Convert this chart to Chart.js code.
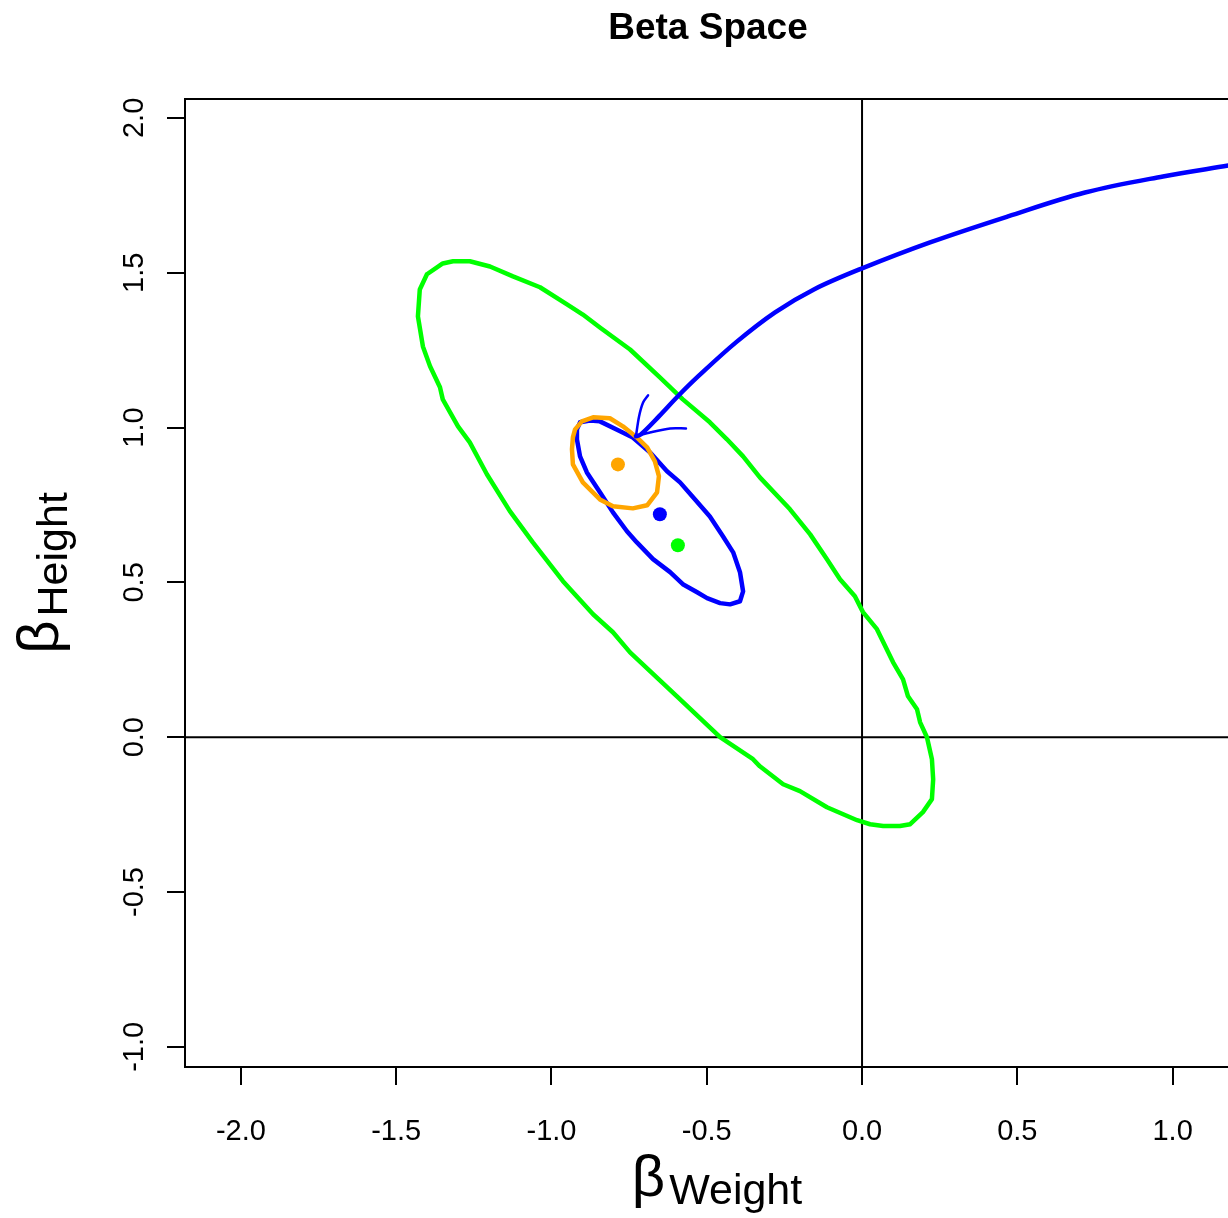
<!DOCTYPE html>
<html>
<head>
<meta charset="utf-8">
<script src="https://cdn.jsdelivr.net/npm/chart.js@4.4.0/dist/chart.umd.min.js"></script>
<style>
  html, body { margin: 0; padding: 0; background: #fff; overflow: hidden; }
  #wrap { width: 1228px; height: 1218px; overflow: hidden; }
</style>
</head>
<body>
<div id="wrap"><canvas id="beta" width="1240" height="1218"></canvas></div>
<script>
// axis ranges and ticks
const xRange = [-2.18, 1.188];
const yRange = [-1.065, 2.061];
const xTicks = [-2.0, -1.5, -1.0, -0.5, 0.0, 0.5, 1.0];
const yTicks = [-1.0, -0.5, 0.0, 0.5, 1.0, 1.5, 2.0];

// wide green ellipse
const greenX = [-1.401,-1.350,-1.317,-1.263,-1.198,-1.124,-1.037,-0.950,-0.899,-0.844,-0.747,-0.651,-0.577,-0.490,-0.435,-0.383,-0.329,-0.232,-0.167,-0.113,-0.071,-0.023,0.003,0.048,0.100,0.132,0.148,0.177,0.187,0.209,0.225,0.229,0.225,0.196,0.155,0.122,0.068,0.026,-0.016,-0.113,-0.200,-0.254,-0.329,-0.351,-0.457,-0.596,-0.747,-0.802,-0.866,-0.963,-1.060,-1.134,-1.208,-1.263,-1.301,-1.350,-1.359,-1.391,-1.414,-1.430,-1.424];
const greenY = [1.495,1.530,1.537,1.537,1.520,1.488,1.453,1.398,1.365,1.323,1.252,1.162,1.091,1.017,0.962,0.907,0.839,0.736,0.655,0.575,0.510,0.455,0.404,0.349,0.242,0.187,0.132,0.090,0.048,0.000,-0.071,-0.136,-0.200,-0.242,-0.281,-0.287,-0.287,-0.281,-0.268,-0.226,-0.174,-0.152,-0.094,-0.071,0.000,0.132,0.274,0.339,0.397,0.504,0.629,0.730,0.849,0.952,1.004,1.091,1.130,1.198,1.262,1.359,1.446];

// blue ellipse
const blueX = [-0.908,-0.876,-0.844,-0.779,-0.738,-0.683,-0.628,-0.586,-0.544,-0.490,-0.448,-0.415,-0.393,-0.383,-0.393,-0.425,-0.457,-0.499,-0.531,-0.577,-0.618,-0.673,-0.725,-0.757,-0.802,-0.844,-0.886,-0.908,-0.918,-0.918];
const blueY = [1.017,1.023,1.020,0.988,0.968,0.920,0.859,0.823,0.775,0.713,0.649,0.597,0.533,0.471,0.439,0.429,0.433,0.449,0.468,0.494,0.533,0.575,0.629,0.665,0.726,0.791,0.855,0.907,0.962,0.994];

// orange ellipse
const orangeX = [-0.931,-0.934,-0.931,-0.899,-0.844,-0.802,-0.738,-0.692,-0.660,-0.654,-0.667,-0.692,-0.725,-0.770,-0.812,-0.866,-0.902,-0.924];
const orangeY = [0.968,0.930,0.881,0.823,0.768,0.746,0.739,0.749,0.791,0.843,0.891,0.936,0.968,1.004,1.030,1.033,1.020,0.994];

// blue path and its two short branches
const pathX = [-0.728,-0.712,-0.654,-0.593,-0.528,-0.406,-0.280,-0.155,0.000,0.219,0.470,0.718,0.969,1.179];
const pathY = [0.972,0.978,1.036,1.101,1.165,1.275,1.372,1.446,1.514,1.598,1.682,1.759,1.811,1.846];
const branchUpX = [-0.728,-0.718,-0.705,-0.689];
const branchUpY = [0.972,1.036,1.081,1.104];
const branchRightX = [-0.728,-0.680,-0.618,-0.567];
const branchRightY = [0.972,0.985,0.997,0.997];

// centre points
const meanX = [-0.786, -0.651, -0.593];
const meanY = [0.881, 0.720, 0.620];
const meanColors = ['#FFA500', '#0000FF', '#00FF00'];

const titleText = 'Beta Space';
const beta = '\u03B2';
const xSub = 'Weight';
const ySub = 'Height';

function pts(xs, ys, closed) {
  let out = xs.map((x, i) => ({x: x, y: ys[i]}));
  if (closed) out.push(out[0]);
  return out;
}

function line(data, color, width, tension) {
  return {
    data: data,
    showLine: true,
    borderColor: color,
    borderWidth: width,
    pointRadius: 0,
    tension: tension || 0,
    borderJoinStyle: 'round',
    borderCapStyle: 'round',
    fill: false
  };
}

const font = '"Liberation Sans", Arial, Helvetica, sans-serif';

function drawSub(ctx, main, sub, cx, baseMain, baseSub) {
  ctx.font = '58px ' + font;
  const wm = ctx.measureText(main).width;
  ctx.font = '43px ' + font;
  const ws = ctx.measureText(sub).width;
  const gap = 4;
  let x0 = cx - (wm + gap + ws) / 2;
  ctx.textAlign = 'left';
  ctx.textBaseline = 'alphabetic';
  ctx.font = '58px ' + font;
  ctx.fillText(main, x0, baseMain);
  ctx.font = '43px ' + font;
  ctx.fillText(sub, x0 + wm + gap, baseSub);
}

const rLabels = {
  id: 'rLabels',
  afterDraw(chart) {
    const {ctx, chartArea: a} = chart;
    const cx = (a.left + a.right) / 2;
    const cy = (a.top + a.bottom) / 2;
    ctx.save();
    ctx.strokeStyle = '#000';
    ctx.lineWidth = 2;
    ctx.strokeRect(a.left, a.top, a.right - a.left, a.bottom - a.top);
    ctx.fillStyle = '#000';
    ctx.font = 'bold 37px ' + font;
    ctx.textAlign = 'center';
    ctx.textBaseline = 'alphabetic';
    ctx.fillText(titleText, cx, 39);
    drawSub(ctx, beta, xSub, cx + 9, 1196, 1204);
    ctx.translate(0, cy - 10);
    ctx.rotate(-Math.PI / 2);
    drawSub(ctx, beta, ySub, 0, 58, 67);
    ctx.restore();
  }
};

const zeroH = line([{x: xRange[0], y: 0}, {x: xRange[1], y: 0}], '#000', 2);
const zeroV = line([{x: 0, y: yRange[0]}, {x: 0, y: yRange[1]}], '#000', 2);

const meanSet = {
  data: pts(meanX, meanY),
  showLine: false,
  pointRadius: 7,
  pointBorderWidth: 0,
  pointBackgroundColor: meanColors,
  pointBorderColor: meanColors
};

new Chart(document.getElementById('beta'), {
  type: 'scatter',
  data: {
    datasets: [
      meanSet,
      line(pts(pathX, pathY), '#0000FF', 4.5, 0.35),
      line(pts(branchUpX, branchUpY), '#0000FF', 2.5, 0.3),
      line(pts(branchRightX, branchRightY), '#0000FF', 2.5, 0.3),
      line(pts(orangeX, orangeY, true), '#FFA500', 4.5),
      line(pts(blueX, blueY, true), '#0000FF', 4.5),
      line(pts(greenX, greenY, true), '#00FF00', 4.5),
      zeroH,
      zeroV
    ]
  },
  options: {
    responsive: false,
    animation: false,
    layout: { padding: { top: 99, right: 9, left: 0, bottom: 0 } },
    plugins: {
      legend: { display: false },
      title: { display: false },
      tooltip: { enabled: false }
    },
    scales: {
      x: {
        type: 'linear',
        min: xRange[0],
        max: xRange[1],
        afterBuildTicks: (s) => { s.ticks = xTicks.map(v => ({value: v})); },
        afterFit: (s) => { s.height = 151; },
        grid: { drawOnChartArea: false, drawTicks: true, tickLength: 18, color: '#000', lineWidth: 2 },
        border: { display: false },
        ticks: {
          color: '#000',
          font: { family: font, size: 29 },
          padding: 30,
          maxRotation: 0,
          autoSkip: false,
          callback: (v) => v.toFixed(1)
        }
      },
      y: {
        type: 'linear',
        min: yRange[0],
        max: yRange[1],
        afterBuildTicks: (s) => { s.ticks = yTicks.map(v => ({value: v})); },
        afterFit: (s) => { s.width = 185; },
        grid: { drawOnChartArea: false, drawTicks: true, tickLength: 18, color: '#000', lineWidth: 2 },
        border: { display: false },
        ticks: {
          color: '#000',
          font: { family: font, size: 29 },
          padding: 7,
          minRotation: 90,
          maxRotation: 90,
          crossAlign: 'center',
          autoSkip: false,
          callback: (v) => v.toFixed(1)
        }
      }
    }
  },
  plugins: [rLabels]
});
</script>
</body>
</html>
